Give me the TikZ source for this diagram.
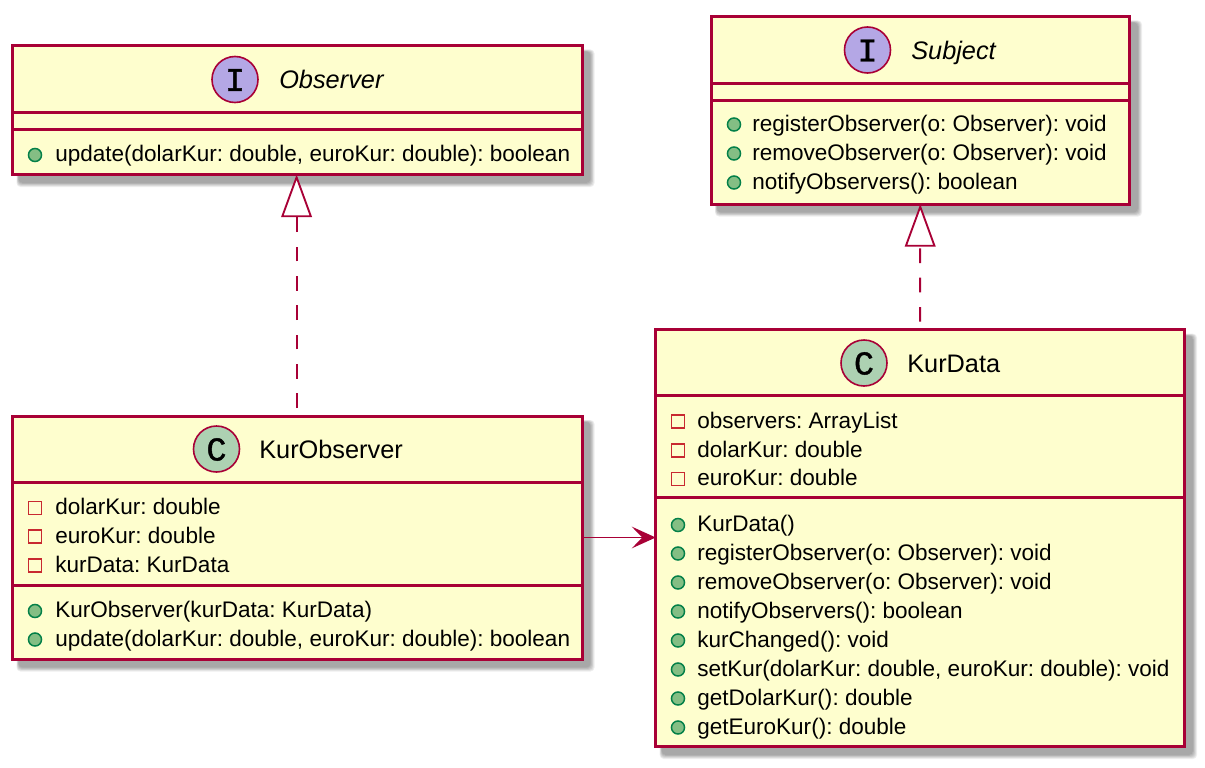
\documentclass[tikz,border=0pt]{standalone}
\usepackage{fontspec}
\setmainfont{Liberation Sans}
\newfontfamily\iconfont[FakeBold=1.2]{Liberation Mono}
\usetikzlibrary{arrows.meta}
\definecolor{umlline}{HTML}{A80036}
\definecolor{umlfill}{HTML}{FEFECE}
\definecolor{umlclass}{HTML}{ADD1B2}
\definecolor{umliface}{HTML}{B4A7E5}
\definecolor{pubfill}{HTML}{84BE84}
\definecolor{publine}{HTML}{038048}
\definecolor{privline}{HTML}{C82930}
\newcounter{memberno}
\frenchspacing
\tikzset{
  x=0.75pt,y=-0.75pt,
  classbox/.style={draw=umlline,fill=umlfill,line width=2.25pt,outer sep=0pt,inner sep=0pt},
  divider/.style={draw=umlline,line width=2.25pt},
  spot/.style={circle,draw=umlline,line width=1.2pt,minimum size=34.5pt,inner sep=0pt,outer sep=0pt},
  spotletter/.style={font=\iconfont\fontsize{25}{25}\selectfont,text=black},
  title/.style={anchor=base west,inner sep=0pt,font=\fontsize{19}{22}\selectfont,text=black},
  ititle/.style={title,font=\itshape\fontsize{19}{22}\selectfont},
  membertext/.style={anchor=base west,inner sep=0pt,font=\frenchspacing\fontsize{16.9}{20}\selectfont,text=black},
  pubicon/.style={circle,draw=publine,fill=pubfill,line width=1.1pt,minimum size=9.8pt,inner sep=0pt},
  privicon/.style={rectangle,draw=privline,fill=umlfill,line width=1.3pt,minimum size=9.6pt,inner sep=0pt},
  realize/.style={draw=umlline,line width=1.45pt,dash pattern=on 11pt off 11pt,dash phase=16pt,-{Triangle[open,fill=white,length=32pt,width=23pt,line width=1.4pt]}},
  assoc/.style={draw=umlline,line width=1.45pt,-{Stealth[length=18pt,width=16.3pt,inset=8pt]}},
}
\newcommand{\classshadow}[4]{%
  \foreach \d in {2.5,3.3,4.1,4.9,5.7,6.5}{
    \fill[black,opacity=0.067,rounded corners=3pt] ({#1+6-(\d-2.5)/2},{#2+6-(\d-2.5)/2}) rectangle ({#3+6+\d},{#4+6+\d});
  }%
}
\newcommand{\classnode}[5]{%
  \node[classbox,minimum width={(#4-#2)*0.75pt},minimum height={(#5-#3)*0.75pt}] (#1) at ({(#2+#4)/2},{(#3+#5)/2}) {};%
}
\newcommand{\themberno}{\arabic{memberno}}
\newcommand{\pubrow}[4]{%
  \stepcounter{memberno}%
  \node[pubicon] (icon\themberno) at (#2,#1-6.5) {};
  \node[membertext] (text\themberno) at (#3,#1) {#4};%
}
\newcommand{\privrow}[4]{%
  \stepcounter{memberno}%
  \node[privicon] (icon\themberno) at (#2,#1-6.5) {};
  \node[membertext] (text\themberno) at (#3,#1) {#4};%
}
\begin{document}
\begin{tikzpicture}
\useasboundingbox (0,0) rectangle (1205,767);
\classshadow{12.5}{45.5}{582}{174.5}
\classshadow{711}{16.5}{1129.5}{204}
\classshadow{12.5}{416}{582}{659}
\classshadow{655.7}{329.7}{1184.5}{746.5}

\classnode{observer}{12.5}{45.5}{582}{174.5}
\classnode{subject}{711}{16.5}{1129.5}{204}
\classnode{kurobserver}{12.5}{416}{582}{659}
\classnode{kurdata}{655.7}{329.7}{1184.5}{746.5}

\draw[divider] (12.5,112.5) -- (582,112.5);
\draw[divider] (12.5,129.5) -- (582,129.5);
\draw[divider] (711,83) -- (1129.5,83);
\draw[divider] (711,100) -- (1129.5,100);
\draw[divider] (12.5,482.5) -- (582,482.5);
\draw[divider] (12.5,585) -- (582,585);
\draw[divider] (655.7,395.5) -- (1184.5,395.5);
\draw[divider] (655.7,497) -- (1184.5,497);

\node[spot,fill=umliface] (spotobserver) at (235,79.5) {};
\node[spotletter] (letterobserver) at (235,80) {I};
\node[ititle] (titleobserver) at (279,88.5) {Observer};
\node[spot,fill=umliface] (spotsubject) at (867.5,50) {};
\node[spotletter] (lettersubject) at (867.5,50.5) {I};
\node[ititle] (titlesubject) at (911,59.5) {Subject};
\node[spot,fill=umlclass] (spotkurobserver) at (216.5,449) {};
\node[spotletter] (letterkurobserver) at (216.5,449.5) {C};
\node[title] (titlekurobserver) at (259,458.5) {KurObserver};
\node[spot,fill=umlclass] (spotkurdata) at (864,363) {};
\node[spotletter] (letterkurdata) at (864,363.5) {C};
\node[title] (titlekurdata) at (907,372.5) {KurData};

\pubrow{161.5}{35}{55}{update(dolarKur: double, euroKur: double): boolean}

\pubrow{131}{734}{752}{registerObserver(o: Observer): void}
\pubrow{160}{734}{752}{removeObserver(o: Observer): void}
\pubrow{189}{734}{752}{notifyObservers(): boolean}

\privrow{514.5}{35}{55}{dolarKur: double}
\privrow{543}{35}{55}{euroKur: double}
\privrow{572}{35}{55}{kurData: KurData}
\pubrow{617.5}{35}{55}{KurObserver(kurData: KurData)}
\pubrow{646}{35}{55}{update(dolarKur: double, euroKur: double): boolean}

\privrow{428}{678}{697}{observers: ArrayList}
\privrow{457}{678}{697}{dolarKur: double}
\privrow{485.5}{678}{697}{euroKur: double}
\pubrow{531.5}{678}{697}{KurData()}
\pubrow{560}{678}{697}{registerObserver(o: Observer): void}
\pubrow{589}{678}{697}{removeObserver(o: Observer): void}
\pubrow{618}{678}{697}{notifyObservers(): boolean}
\pubrow{647}{678}{697}{kurChanged(): void}
\pubrow{676}{678}{697}{setKur(dolarKur: double, euroKur: double): void}
\pubrow{705}{678}{697}{getDolarKur(): double}
\pubrow{734}{678}{697}{getEuroKur(): double}

\draw[realize] ([xshift=-0.5pt]kurobserver.north) -- ([xshift=-0.5pt]observer.south);
\draw[realize] (kurdata.north) -- (subject.south);
\draw[assoc] (kurobserver.east) -- (kurobserver.east -| kurdata.west);
\end{tikzpicture}
\end{document}
